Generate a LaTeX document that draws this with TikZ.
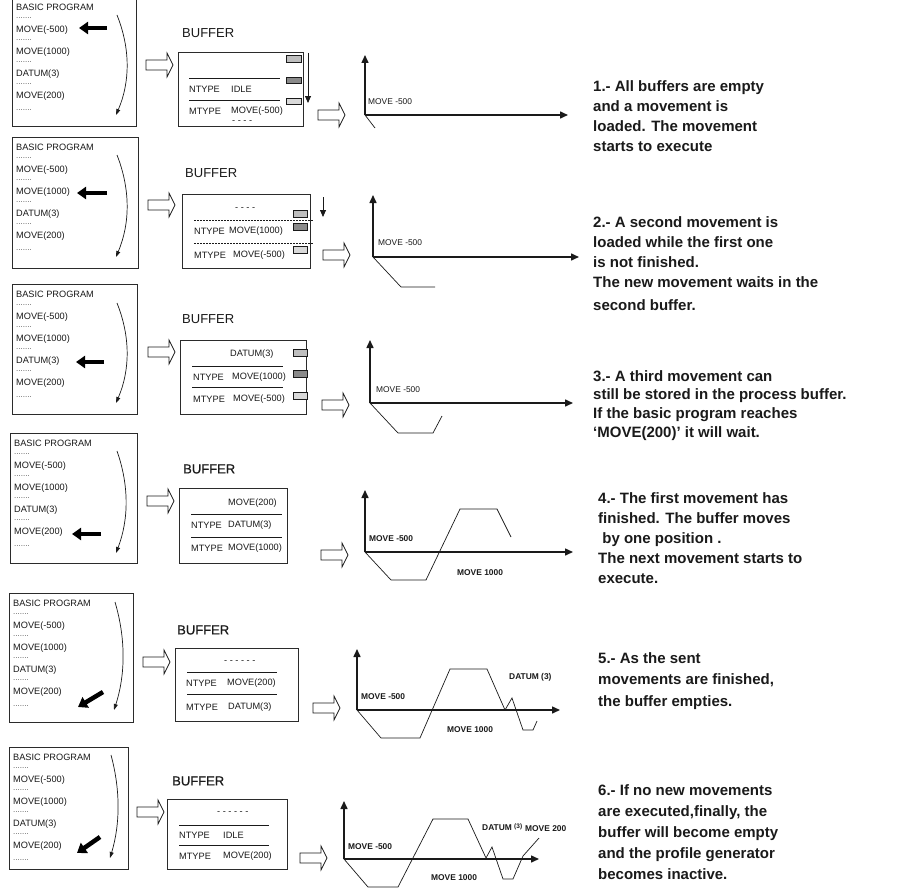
\documentclass[tikz,border=0pt]{standalone}
\usepackage{fontspec}
\setmainfont{Liberation Sans}
\newfontfamily\heavylabel{Liberation Sans}[FakeBold=0.6]
\usetikzlibrary{arrows.meta, positioning}
\definecolor{color_text}{HTML}{1A1A1A}
\definecolor{color_line}{HTML}{2B2B2B}
\definecolor{color_dots}{HTML}{555555}
\definecolor{color_slot_a}{HTML}{BEBEBE}
\definecolor{color_slot_b}{HTML}{8A8A8A}
\definecolor{color_slot_c}{HTML}{D9D9D9}
\tikzset{
  prog_box/.style={draw=color_line, line width=0.9pt},
  buffer_box/.style={draw=color_line, line width=0.9pt},
  small_text/.style={font=\fontsize{9.2}{11}\selectfont, text=color_text, anchor=west, inner sep=0pt},
  dots_text/.style={font=\fontsize{8}{9}\selectfont, text=color_dots, anchor=west, inner sep=0pt},
  buffer_label/.style={font=\fontsize{13}{15}\selectfont, text=color_text, anchor=west, inner sep=0pt},
  buffer_label_heavy/.style={buffer_label, font=\fontsize{13}{15}\selectfont\heavylabel},
  graph_label/.style={font=\fontsize{8.4}{10}\selectfont, text=color_text, anchor=west, inner sep=0pt},
  graph_label_bold/.style={graph_label, font=\fontsize{8.4}{10}\selectfont\bfseries},
  desc_text/.style={font=\fontsize{15}{20}\selectfont\bfseries, text=color_text, anchor=north west, align=left, inner sep=0pt},
  graph_axis/.style={draw=color_text, line width=1.5pt, -{Triangle[length=8pt, width=7pt]}},
  profile_line/.style={draw=color_text, line width=0.7pt},
  pointer_arrow/.style={draw=black, line width=4.5pt, -{Triangle[length=9pt, width=12pt]}},
  flow_arrow/.style={draw=color_text, line width=0.7pt, -{Triangle[length=6pt, width=4pt]}},
  shift_arrow/.style={draw=color_text, line width=0.8pt, -{Triangle[length=7pt, width=6pt]}},
  hollow_block/.style={draw=color_text, line width=0.7pt, fill=white},
  slot_line/.style={draw=color_text, line width=0.5pt},
  slot_cell/.style={draw=color_text, line width=0.6pt},
}
% program listing: #1 name, #2 left, #3 top, #4 right, #5 bottom
\newcommand{\programlisting}[5]{%
  \draw[prog_box] (#2,#3) rectangle (#4,#5);
  \node[small_text] (#1_title) at (#2+4,#3+10) {BASIC PROGRAM};
  \node[dots_text] (#1_d1) at (#2+4,#3+21) {.......};
  \node[small_text] (#1_l1) at (#2+4,#3+33) {MOVE(-500)};
  \node[dots_text] (#1_d2) at (#2+4,#3+43) {.......};
  \node[small_text] (#1_l2) at (#2+4,#3+55) {MOVE(1000)};
  \node[dots_text] (#1_d3) at (#2+4,#3+65) {.......};
  \node[small_text] (#1_l3) at (#2+4,#3+77) {DATUM(3)};
  \node[dots_text] (#1_d4) at (#2+4,#3+87) {.......};
  \node[small_text] (#1_l4) at (#2+4,#3+99) {MOVE(200)};
  \node[dots_text] (#1_d5) at (#2+4,#3+113) {.......};
}
% hollow block arrow: #1 left end x, #2 centre y
\newcommand{\hollowarrow}[2]{%
  \draw[hollow_block] (#1,#2-5) -- ++(21,0) -- ++(0,-7) -- (#1+27,#2)
    -- (#1+21,#2+12) -- ++(0,-7) -- (#1,#2+5) -- cycle;
}
% curved execution arrow: #1 x, #2 top y, #3 bottom y, #4 bulge x
\newcommand{\execarrow}[4]{%
  \draw[flow_arrow] (#1,#2) .. controls ({(4*#4-#1)/3},{#2+(#3-#2)/3})
    and ({(4*#4-#1)/3},{#2+2*(#3-#2)/3}) .. (#1-1,#3);
}

\begin{document}
\begin{tikzpicture}[x=1pt, y=-1pt]
    \useasboundingbox (0,0) rectangle (924,891);
    \fill[white] (0,0) rectangle (924,891);

    % ---- step 1 ----
    \programlisting{p1}{12}{-3}{136}{126}
    \execarrow{117}{15}{115}{127}
    \draw[pointer_arrow] (107,28) -- (79,28);
    \hollowarrow{146}{65}
    \node[buffer_label] (buf1_label) at (182,33) {BUFFER};
    \draw[buffer_box] (178,52) rectangle (303,126);
    \draw[slot_line] (189,78) -- (280,78);
    \draw[slot_line] (189,100) -- (280,100);
    \draw[slot_cell, fill=color_slot_a] (286,55) rectangle (301,62);
    \draw[slot_cell, fill=color_slot_b] (286,77) rectangle (301,83);
    \draw[slot_cell, fill=color_slot_c] (286,98) rectangle (301,104);
    \node[small_text] (buf1_n) at (189,89) {NTYPE};
    \node[small_text] (buf1_nv) at (231,89) {IDLE};
    \node[small_text] (buf1_m) at (189,111) {MTYPE};
    \node[small_text] (buf1_mv) at (231,111) {MOVE(-500)};
    \node[small_text] (buf1_e) at (232,122) {- - - -};
    \draw[shift_arrow] (308,53) -- (308,103);
    \hollowarrow{318}{115}
    \coordinate (g1_o) at (365,115);
    \draw[graph_axis] (g1_o) -- (365,55);
    \draw[graph_axis] (g1_o) -- (568,115);
    \draw[profile_line] (g1_o) -- (375,128);
    \node[graph_label] (g1_a) at (368,102) {MOVE -500};
    \node[desc_text] (desc1) at (593,80) {1.- All buffers are empty\\and a movement is\\loaded. The movement\\starts to execute};

    % ---- step 2 ----
    \programlisting{p2}{12}{137}{138}{268}
    \execarrow{117}{155}{257}{127}
    \draw[pointer_arrow] (107,193) -- (77,193);
    \hollowarrow{148}{205}
    \node[buffer_label] (buf2_label) at (185,173) {BUFFER};
    \draw[buffer_box] (182,194) rectangle (310,268);
    \draw[slot_line, dashed, dash pattern=on 2pt off 1pt] (194,220) -- (313,220);
    \draw[slot_line, dashed, dash pattern=on 2pt off 1pt] (194,243) -- (313,243);
    \draw[slot_cell, fill=color_slot_a] (293,210) rectangle (307,217);
    \draw[slot_cell, fill=color_slot_b] (293,223) rectangle (307,230);
    \draw[slot_cell, fill=color_slot_c] (293,246) rectangle (307,253);
    \node[small_text] (buf2_e) at (235,209) {- - - -};
    \node[small_text] (buf2_n) at (194,231) {NTYPE};
    \node[small_text] (buf2_nv) at (229,231) {MOVE(1000)};
    \node[small_text] (buf2_m) at (194,255) {MTYPE};
    \node[small_text] (buf2_mv) at (233,255) {MOVE(-500)};
    \draw[shift_arrow] (323,197) -- (323,217);
    \hollowarrow{323}{255}
    \coordinate (g2_o) at (373,257);
    \draw[graph_axis] (g2_o) -- (373,195);
    \draw[graph_axis] (g2_o) -- (579,257);
    \draw[profile_line] (g2_o) -- (401,287) -- (435,287);
    \node[graph_label] (g2_a) at (378,243) {MOVE -500};
    \node[desc_text] (desc2) at (593,216) {2.- A second movement is\\loaded while the first one\\is not finished.\\The new movement waits in the\\[3pt]second buffer.};

    % ---- step 3 ----
    \programlisting{p3}{12}{284}{137}{414}
    \execarrow{117}{303}{403}{127}
    \draw[pointer_arrow] (104,362) -- (76,362);
    \hollowarrow{148}{352}
    \node[buffer_label] (buf3_label) at (182,319) {BUFFER};
    \draw[buffer_box] (180,340) rectangle (306,414);
    \draw[slot_line] (192,366) -- (283,366);
    \draw[slot_line] (192,387) -- (283,387);
    \draw[slot_cell, fill=color_slot_a] (293,349) rectangle (307,356);
    \draw[slot_cell, fill=color_slot_b] (293,370) rectangle (307,377);
    \draw[slot_cell, fill=color_slot_c] (293,392) rectangle (307,399);
    \node[small_text] (buf3_e) at (230,354) {DATUM(3)};
    \node[small_text] (buf3_n) at (193,377) {NTYPE};
    \node[small_text] (buf3_nv) at (232,377) {MOVE(1000)};
    \node[small_text] (buf3_m) at (193,399) {MTYPE};
    \node[small_text] (buf3_mv) at (233,399) {MOVE(-500)};
    \hollowarrow{322}{405}
    \coordinate (g3_o) at (370,403);
    \draw[graph_axis] (g3_o) -- (370,340);
    \draw[graph_axis] (g3_o) -- (573,403);
    \draw[profile_line] (g3_o) -- (398,433) -- (433,433) -- (442,416);
    \node[graph_label] (g3_a) at (376,390) {MOVE -500};
    \node[desc_text, font=\fontsize{15}{18.7}\selectfont\bfseries] (desc3) at (593,370) {3.- A third movement can\\still be stored in the process buffer.\\If the basic program reaches\\‘MOVE(200)’ it will wait.};

    % ---- step 4 ----
    \programlisting{p4}{10}{433}{137}{563}
    \execarrow{117}{451}{553}{126}
    \draw[pointer_arrow] (101,534) -- (72,534);
    \hollowarrow{147}{501}
    \node[buffer_label_heavy] (buf4_label) at (183,469) {BUFFER};
    \draw[buffer_box] (179,488) rectangle (287,563);
    \draw[slot_line] (191,514) -- (282,514);
    \draw[slot_line] (191,537) -- (282,537);
    \node[small_text] (buf4_e) at (228,503) {MOVE(200)};
    \node[small_text] (buf4_n) at (191,525) {NTYPE};
    \node[small_text] (buf4_nv) at (228,525) {DATUM(3)};
    \node[small_text] (buf4_m) at (191,548) {MTYPE};
    \node[small_text] (buf4_mv) at (228,548) {MOVE(1000)};
    \hollowarrow{321}{555}
    \coordinate (g4_o) at (365,552);
    \draw[graph_axis] (g4_o) -- (365,490);
    \draw[graph_axis] (g4_o) -- (573,552);
    \draw[profile_line] (g4_o) -- (391,580) -- (426,580) -- (460,509) -- (497,509) -- (511,537);
    \node[graph_label_bold] (g4_a) at (369,539) {MOVE -500};
    \node[graph_label_bold] (g4_b) at (457,573) {MOVE 1000};
    \node[desc_text] (desc4) at (598,492) {4.- The first movement has\\finished. The buffer moves\\\ by one position .\\The next movement starts to\\execute.};

    % ---- step 5 ----
    \programlisting{p5}{9}{593}{133}{722}
    \execarrow{115}{602}{710}{123}
    \draw[pointer_arrow] (103,692) -- (78,707);
    \hollowarrow{143}{662}
    \node[buffer_label_heavy] (buf5_label) at (177,630) {BUFFER};
    \draw[buffer_box] (175,648) rectangle (298,721);
    \draw[slot_line] (187,672) -- (277,672);
    \draw[slot_line] (187,694) -- (277,694);
    \node[small_text] (buf5_e) at (224,662) {- - - - - -};
    \node[small_text] (buf5_n) at (186,683) {NTYPE};
    \node[small_text] (buf5_nv) at (227,683) {MOVE(200)};
    \node[small_text] (buf5_m) at (186,707) {MTYPE};
    \node[small_text] (buf5_mv) at (228,707) {DATUM(3)};
    \hollowarrow{313}{708}
    \coordinate (g5_o) at (357,710);
    \draw[graph_axis] (g5_o) -- (357,649);
    \draw[graph_axis] (g5_o) -- (560,710);
    \draw[profile_line] (g5_o) -- (381,738) -- (420,738) -- (450,669) -- (487,669) -- (505,710)
      -- (512,698) -- (523,730) -- (533,730) -- (537,721);
    \node[graph_label_bold] (g5_a) at (361,697) {MOVE -500};
    \node[graph_label_bold] (g5_b) at (447,730) {MOVE 1000};
    \node[graph_label_bold] (g5_c) at (509,677) {DATUM (3)};
    \node[desc_text, font=\fontsize{15}{21.5}\selectfont\bfseries] (desc5) at (598,652) {5.- As the sent\\movements are finished,\\the buffer empties.};

    % ---- step 6 ----
    \programlisting{p6}{9}{747}{128}{869}
    \execarrow{111}{755}{858}{118}
    \draw[pointer_arrow] (100,837) -- (77,853);
    \hollowarrow{137}{812}
    \node[buffer_label_heavy] (buf6_label) at (172,781) {BUFFER};
    \draw[buffer_box] (167,799) rectangle (287,869);
    \draw[slot_line] (179,825) -- (269,825);
    \draw[slot_line] (179,845) -- (269,845);
    \node[small_text] (buf6_e) at (217,813) {- - - - - -};
    \node[small_text] (buf6_n) at (179,835) {NTYPE};
    \node[small_text] (buf6_nv) at (223,835) {IDLE};
    \node[small_text] (buf6_m) at (179,856) {MTYPE};
    \node[small_text] (buf6_mv) at (223,856) {MOVE(200)};
    \hollowarrow{300}{858}
    \coordinate (g6_o) at (344,859);
    \draw[graph_axis] (g6_o) -- (344,801);
    \draw[graph_axis] (g6_o) -- (539,859);
    \draw[profile_line] (g6_o) -- (368,887) -- (398,887) -- (433,819) -- (468,819) -- (486,858)
      -- (492,847) -- (503,879) -- (513,879) -- (523,856) -- (539,838);
    \node[graph_label_bold] (g6_a) at (348,847) {MOVE -500};
    \node[graph_label_bold] (g6_b) at (431,878) {MOVE 1000};
    \node[graph_label_bold] (g6_c) at (482,827) {DATUM {\fontsize{6.5}{7}\selectfont\raisebox{1.5pt}{(3)}}};
    \node[graph_label_bold] (g6_d) at (525,829) {MOVE 200};
    \node[desc_text, font=\fontsize{15}{21}\selectfont\bfseries] (desc6) at (598,784) {6.- If no new movements\\are executed,finally, the\\buffer will become empty\\and the profile generator\\becomes inactive.};
  \end{tikzpicture}
\end{document}
